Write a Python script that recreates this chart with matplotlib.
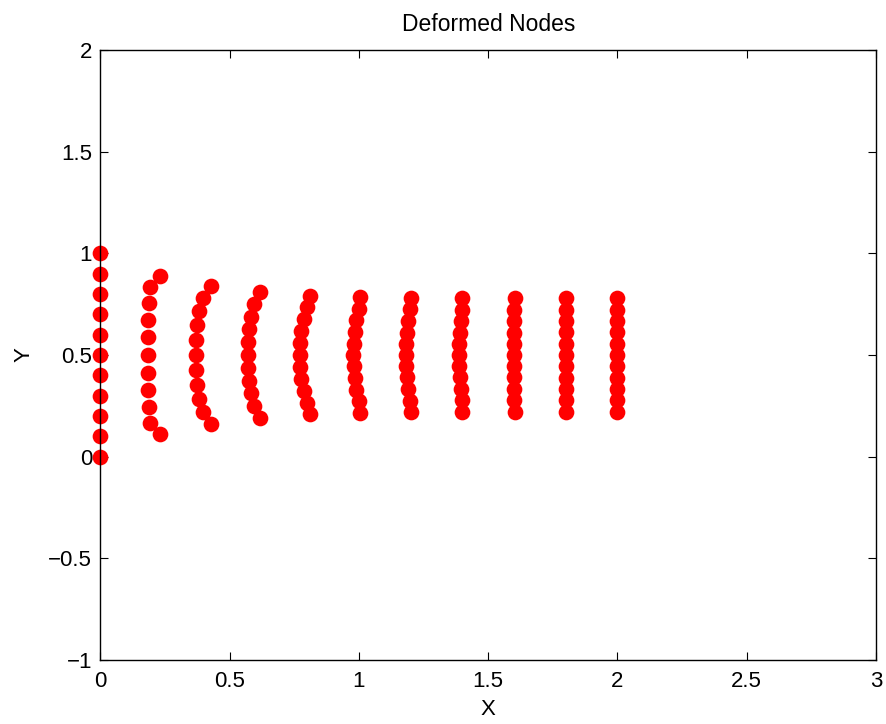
import matplotlib
matplotlib.use("Agg")
import matplotlib.pyplot as plt

plt.rcParams['font.family'] = ['Liberation Sans', 'DejaVu Sans']

# Node x/y coordinates, one list per column of nodes
col_x = [
    [0.0]*11,
    [0.229, 0.193, 0.187, 0.184, 0.183, 0.183, 0.183, 0.184, 0.187, 0.193, 0.229],
    [0.428, 0.397, 0.380, 0.374, 0.371, 0.371, 0.371, 0.374, 0.380, 0.397, 0.428],
    [0.618, 0.595, 0.583, 0.573, 0.569, 0.569, 0.569, 0.573, 0.583, 0.595, 0.618],
    [0.812, 0.799, 0.786, 0.776, 0.770, 0.770, 0.770, 0.776, 0.786, 0.799, 0.812],
    [1.005, 0.999, 0.990, 0.983, 0.979, 0.978, 0.979, 0.983, 0.990, 0.999, 1.005],
    [1.202, 1.197, 1.191, 1.186, 1.182, 1.180, 1.182, 1.186, 1.191, 1.197, 1.202],
    [1.400, 1.397, 1.393, 1.389, 1.388, 1.388, 1.388, 1.389, 1.393, 1.397, 1.400],
    [1.603, 1.601, 1.600, 1.599, 1.598, 1.598, 1.598, 1.599, 1.600, 1.601, 1.603],
    [1.801, 1.800, 1.800, 1.799, 1.799, 1.799, 1.799, 1.799, 1.800, 1.800, 1.801],
    [2.0]*11,
]
col_y = [
    [1.0, 0.9, 0.8, 0.7, 0.6, 0.5, 0.4, 0.3, 0.2, 0.1, 0.0],
    [0.889, 0.832, 0.755, 0.674, 0.587, 0.500, 0.413, 0.326, 0.245, 0.168, 0.111],
    [0.840, 0.780, 0.717, 0.648, 0.574, 0.500, 0.426, 0.352, 0.283, 0.220, 0.160],
    [0.811, 0.751, 0.689, 0.630, 0.565, 0.500, 0.435, 0.370, 0.311, 0.249, 0.189],
    [0.792, 0.736, 0.676, 0.617, 0.559, 0.500, 0.441, 0.383, 0.324, 0.264, 0.208],
    [0.786, 0.727, 0.670, 0.612, 0.556, 0.500, 0.444, 0.388, 0.330, 0.273, 0.214],
    [0.782, 0.724, 0.666, 0.609, 0.554, 0.500, 0.446, 0.391, 0.334, 0.276, 0.218],
    [0.779, 0.723, 0.666, 0.610, 0.554, 0.500, 0.446, 0.390, 0.334, 0.277, 0.221],
    [0.778, 0.722, 0.666, 0.610, 0.555, 0.500, 0.445, 0.390, 0.334, 0.278, 0.222],
    [0.778, 0.722, 0.666, 0.611, 0.555, 0.500, 0.445, 0.389, 0.334, 0.278, 0.222],
    [0.778, 0.722, 0.666, 0.611, 0.555, 0.500, 0.445, 0.389, 0.334, 0.278, 0.222],
]
x_ticks = [0, 0.5, 1, 1.5, 2, 2.5, 3]
x_labels = ['0', '0.5', '1', '1.5', '2', '2.5', '3']
y_ticks = [-1, -0.5, 0, 0.5, 1, 1.5, 2]
y_labels = ['\u22121', '\u22120.5', '0', '0.5', '1', '1.5', '2']

fig = plt.figure(figsize=(8.87, 7.24), dpi=100)
ax = fig.add_axes([100.5/887, 1 - 660/724, 775.5/887, 610/724])

for xs, ys in zip(col_x, col_y):
    ax.plot(xs, ys, 'o', color='#ff0000', markersize=11.3, markeredgewidth=0, clip_on=False)

ax.set_xlim(0, 3)
ax.set_ylim(-1, 2)
ax.set_xticks(x_ticks)
ax.set_xticklabels(x_labels)
ax.set_yticks(y_ticks)
ax.set_yticklabels(y_labels)
ax.tick_params(direction='in', length=6, width=0.8, top=True, right=True,
               labelsize=16, colors='black')
ax.tick_params(axis='x', pad=8)
ax.tick_params(axis='y', pad=6)
for s in ax.spines.values():
    s.set_linewidth(1.0)
ax.set_title('Deformed Nodes', fontsize=16.5, pad=14)
ax.set_xlabel('X', fontsize=16, labelpad=5)
ax.set_ylabel('Y', fontsize=16, labelpad=10)

fig.savefig('out.png', dpi=100)
